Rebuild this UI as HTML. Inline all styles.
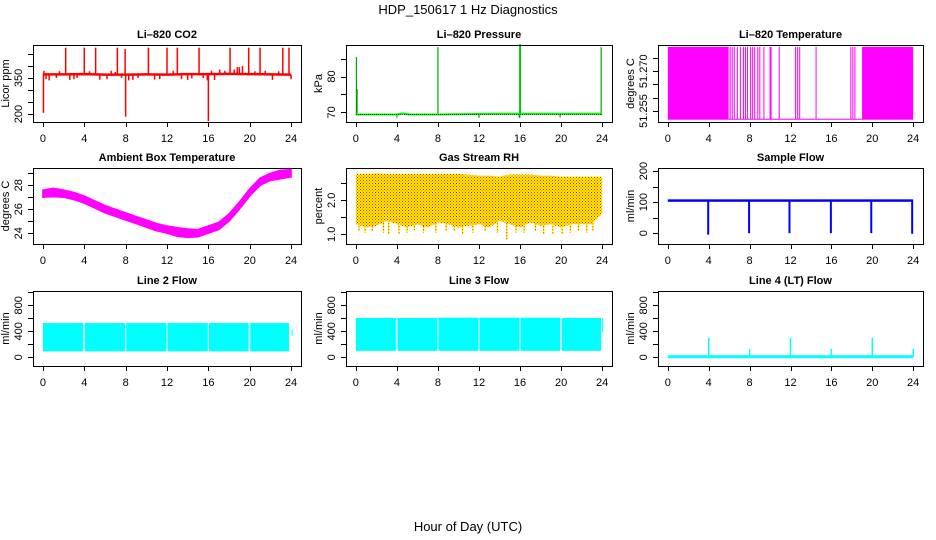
<!DOCTYPE html>
<html><head><meta charset="utf-8"><style>
html,body{margin:0;padding:0;background:#fff;}
svg{display:block;font-family:"Liberation Sans",sans-serif;}
</style></head><body>
<svg id="chart" width="936" height="540" viewBox="0 0 936 540" xmlns="http://www.w3.org/2000/svg">
<defs>
<pattern id="rhdots" width="3" height="3" patternUnits="userSpaceOnUse">
<rect width="3" height="3" fill="#ffff00"/>
<rect x="0" y="0" width="1" height="1" fill="#ff0000"/>
<rect x="1.5" y="1.5" width="1" height="1" fill="#ff0000"/>
</pattern>
</defs>
<text x="468" y="14" text-anchor="middle" font-size="13">HDP_150617  1 Hz Diagnostics</text>
<text x="468" y="531" text-anchor="middle" font-size="13">Hour of Day (UTC)</text>
</svg>
<script>
// ---- shared axis data ----
const xTicks = [0,4,8,12,16,20,24];

// CO2
const co2BaseHours = [0,2,4,6,8,10,12,14,16,18,20,22,24];
const co2BaseVals = [365,365,366,364,364,365,364,366,366,367,366,365,364];
const co2SpikeHours = [0.05,0.1,0.3,0.6,1.3,1.6,2.2,2.6,3.0,3.3,4.0,4.5,5.1,5.5,6.2,6.6,7.0,7.2,7.6,7.95,8.0,8.3,8.7,9.2,10.2,10.8,11.3,12.0,12.6,13.0,13.4,14.0,14.4,15.1,15.5,15.9,16.0,16.3,16.6,17.1,17.6,18.1,18.5,18.8,19.0,19.3,19.9,20.5,21.0,21.5,22.2,22.8,23.2,23.8,24.0];
const co2SpikeVals = [205,380,345,340,350,378,476,342,345,350,476,378,476,343,345,380,375,476,350,470,189,340,342,350,476,343,345,476,380,476,345,342,348,476,350,340,170,380,342,385,380,476,385,395,395,400,476,378,476,380,342,378,476,476,345];

// Pressure
const presBaseHours = [0,4,4.5,5.2,8,13.5,23.8,24];
const presBaseVals = [69.4,69.4,69.7,69.4,69.4,69.6,69.6,69.4];
const presSpikeHours = [0.05,0.12,4.0,8.0,12.0,15.95,16.0,19.9,23.9];
const presSpikeVals = [85.4,76.5,68.5,88.2,68.5,68.5,89.0,68.6,88.2];

// Li-820 temperature (binary toggling)
const tempLow = 51.2519;
const tempHigh = 51.2792;
const tempDenseBlocks = [[0,5.95],[19.0,24.0]];
const tempSpikeHours = [6.1,6.3,6.5,6.8,7.1,7.4,7.6,7.8,8.1,8.3,8.5,8.8,9.0,9.4,10.0,10.1,10.9,12.5,12.7,12.9,14.5,17.9,18.1,18.3];

// Ambient box temperature
const ambHours = [0,1,2,3,4,5,6,7,8,9,10,11,12,13,14,15,16,17,18,19,20,21,22,23,24];
const ambMid = [27.3,27.4,27.3,27.1,26.8,26.4,26.0,25.7,25.4,25.1,24.8,24.5,24.3,24.1,24.0,24.0,24.3,24.6,25.3,26.3,27.4,28.3,28.7,28.9,29.0];
const ambHalfWidth = [0.3,0.35,0.3,0.3,0.3,0.3,0.3,0.3,0.3,0.3,0.3,0.3,0.3,0.35,0.35,0.3,0.3,0.3,0.3,0.3,0.3,0.3,0.3,0.35,0.3];

// Gas stream RH
const rhHours = [0,1,2,3,4,5,6,7,8,9,10,11,12,13,14,15,16,17,18,19,20,21,22,23,24];
const rhTop = [2.78,2.78,2.80,2.78,2.78,2.78,2.78,2.78,2.78,2.78,2.78,2.75,2.72,2.72,2.70,2.76,2.76,2.76,2.72,2.72,2.70,2.70,2.70,2.70,2.70];
const rhBottom = [1.3,1.2,1.25,1.4,1.3,1.2,1.3,1.2,1.35,1.3,1.2,1.25,1.3,1.2,1.4,1.3,1.2,1.35,1.25,1.3,1.2,1.3,1.3,1.3,1.6];
const rhDipHours = [0.3,0.9,1.6,2.7,3.2,4.2,5.0,5.7,6.6,7.8,8.8,9.6,10.4,11.4,12.6,13.8,14.7,15.6,16.4,17.5,18.3,19.2,20.1,20.9,21.7,22.5,23.1];
const rhDipVals = [1.1,1.05,1.1,1.05,1.0,1.0,1.05,1.1,1.05,1.05,1.1,1.1,1.0,1.05,1.1,1.05,0.85,1.05,1.05,1.1,1.0,1.0,1.0,1.05,1.1,1.05,1.1];

// Sample flow
const sfBase = 105;
const sfDropHours = [3.95,7.95,11.9,15.95,19.9,23.9];
const sfDropVals = [-5,0,0,0,0,-2];

// Line 2 flow
const l2SegStart = [0,4.05,8.05,12.05,16.05,20.05,24.05];
const l2SegEnd = [3.9,7.95,11.95,15.95,19.9,23.8,24.15];
const l2Top = [527,527,527,527,527,527,430];
const l2Bottom = [92,92,92,92,92,92,330];

// Line 3 flow
const l3SegStart = [0,4.05,8.05,12.05,16.05,20.05,24.0];
const l3SegEnd = [3.9,7.95,11.95,15.95,19.9,23.9,24.1];
const l3Top = [606,606,610,610,610,606,600];
const l3Bottom = [100,100,100,100,100,100,380];

// Line 4 flow
const l4Base = 10;
const l4SpikeHours = [4,8,12,16,20,24];
const l4SpikeVals = [300,130,300,130,300,130];

// ---- layout ----
const NS = "http://www.w3.org/2000/svg";
const svg = document.getElementById('chart');
const colL = [33,346,658], colR = [301,612,923];
const rowT = [45,168,291], rowB = [122,244,366];

function mk(tag, attrs, parent) {
  const e = document.createElementNS(NS, tag);
  for (const k in attrs) e.setAttribute(k, attrs[k]);
  (parent || svg).appendChild(e);
  return e;
}

function panel(col, row, title, ylab, ymin, ymax, yTicks, yLabels, name) {
  const g = mk('g', {});
  
  
  const L = colL[col], R = colR[col], T = rowT[row], B = rowB[row];
  const w = R - L;
  const span = w / 1.08, pad = w * 0.04 / 1.08;
  const xs = h => L + pad + h / 24 * span;
  const ys = v => B - (v - ymin) / (ymax - ymin) * (B - T);
  const t = mk('text', {x: (L + R) / 2, y: T - 7, 'text-anchor': 'middle', 'font-size': 11, 'font-weight': 'bold'}, g);
  t.textContent = title;
  
  
  const plot = mk('g', {}, g);
  
  
  const xa = mk('g', {stroke: '#000', 'stroke-width': 1}, g);
  
  
  mk('line', {x1: xs(0), x2: xs(24), y1: B + 0.5, y2: B + 0.5}, xa);
  xTicks.forEach(h => {
    mk('line', {x1: Math.round(xs(h)) + 0.5, x2: Math.round(xs(h)) + 0.5, y1: B, y2: B + 5}, xa);
    const tl = mk('text', {x: xs(h), y: B + 20, 'text-anchor': 'middle', 'font-size': 11, stroke: 'none'}, g);
    tl.textContent = h;
    
    
  });
  const ya = mk('g', {stroke: '#000', 'stroke-width': 1}, g);
  
  
  yTicks.forEach((v, i) => {
    const y = Math.round(ys(v)) + 0.5;
    mk('line', {x1: L - 5, x2: L, y1: y, y2: y}, ya);
    if (yLabels[i]) {
      const yl = mk('text', {x: L - 11, y: ys(v), 'text-anchor': 'middle', 'font-size': 11, transform: `rotate(-90 ${L - 11} ${ys(v)})`}, g);
      yl.textContent = yLabels[i];
      
      
    }
  });
  const yt = mk('text', {x: L - 24, y: (T + B) / 2, 'text-anchor': 'middle', 'font-size': 11, transform: `rotate(-90 ${L - 24} ${(T + B) / 2})`}, g);
  yt.textContent = ylab;
  
  
  const box = mk('rect', {x: L + 0.5, y: T + 0.5, width: w, height: B - T, fill: 'none', stroke: '#000', 'stroke-width': 1}, g);
  
  
  return {xs, ys, plot};
}
function poly(pts) { return pts.map(p => p[0].toFixed(1) + ',' + p[1].toFixed(1)).join(' '); }
function vline(p, x, y1, y2, color, sw, nm) {
  const l = mk('line', {x1: x, x2: x, y1: y1, y2: y2, stroke: color, 'stroke-width': sw}, p);
  
  
  return l;
}

// 1 CO2
(function(){
  const P = panel(0,0,'Li\u2013820 CO2','Licor ppm',167,487,[200,250,300,350,400,450],['200','','','350','',''],'co2');
  co2SpikeHours.forEach((h,i)=>{
    const b = co2BaseVals[Math.min(co2BaseVals.length-1, Math.round(h/2))];
    vline(P.plot, P.xs(h), P.ys(b), P.ys(co2SpikeVals[i]), '#ff0000', 1.5, 'co2-spike');
  });
  const pl = mk('polyline',{points: poly(co2BaseHours.map((h,i)=>[P.xs(h),P.ys(co2BaseVals[i])])), fill:'none', stroke:'#ff0000','stroke-width':2.5}, P.plot);
  
  
})();

// 2 Pressure
(function(){
  const P = panel(1,0,'Li\u2013820 Pressure','kPa',67.3,88.8,[70,75,80,85],['70','','80',''],'pressure');
  presSpikeHours.forEach((h,i)=>{
    vline(P.plot, P.xs(h), P.ys(69.4), P.ys(presSpikeVals[i]), '#00ff00', i===5||i===6?2:1.2, 'pressure-spike');
    const d = vline(P.plot, P.xs(h), P.ys(69.4), P.ys(presSpikeVals[i]), '#000', 0.8, 'pressure-spike-dotted');
    d.setAttribute('stroke-dasharray','1,1');
  });
  const pl = mk('polyline',{points: poly(presBaseHours.map((h,i)=>[P.xs(h),P.ys(presBaseVals[i])])), fill:'none', stroke:'#00ff00','stroke-width':2}, P.plot);
  
  
  const dl = mk('line',{x1:P.xs(0),x2:P.xs(24),y1:P.ys(69.4),y2:P.ys(69.4),stroke:'#000','stroke-width':0.8,'stroke-dasharray':'1,1'}, P.plot);
  
  
})();

// 3 Temperature
(function(){
  const P = panel(2,0,'Li\u2013820 Temperature','degrees C',51.25085,51.2799,[51.255,51.26,51.265,51.27,51.275],['51.255','','','51.270',''],'li820-temp');
  tempDenseBlocks.forEach(b=>{
    const r = mk('rect',{x:P.xs(b[0]),y:P.ys(tempHigh),width:P.xs(b[1])-P.xs(b[0]),height:P.ys(tempLow)-P.ys(tempHigh),fill:'#ff00ff'}, P.plot);
    
    
  });
  tempSpikeHours.forEach(h=> vline(P.plot, P.xs(h), P.ys(tempLow), P.ys(tempHigh), '#ff00ff', 1, 'li820-temp-spike'));
  const bl = mk('line',{x1:P.xs(0),x2:P.xs(24),y1:P.ys(tempLow),y2:P.ys(tempLow),stroke:'#ff00ff','stroke-width':1}, P.plot);
  
  
})();

// 4 Ambient
(function(){
  const P = panel(0,1,'Ambient Box Temperature','degrees C',23.1,29.44,[24,25,26,27,28,29],['24','','26','','28',''],'ambient-temp');
  const up = ambHours.map((h,i)=>[P.xs(h),P.ys(ambMid[i]+ambHalfWidth[i])]);
  const lo = ambHours.map((h,i)=>[P.xs(h),P.ys(ambMid[i]-ambHalfWidth[i])]).reverse();
  const pg = mk('polygon',{points: poly(up.concat(lo)), fill:'#ff00ff', stroke:'#ff00ff','stroke-width':1.5}, P.plot);
  
  
})();

// 5 RH
(function(){
  const P = panel(1,1,'Gas Stream RH','percent',0.715,2.95,[1.0,1.5,2.0,2.5],['1.0','','2.0',''],'rh');
  rhDipHours.forEach((h,i)=>{
    vline(P.plot, P.xs(h), P.ys(1.5), P.ys(rhDipVals[i]), '#ffff00', 1.5, 'rh-dip');
    const d = vline(P.plot, P.xs(h), P.ys(1.5), P.ys(rhDipVals[i]), '#ff0000', 1, 'rh-dip-points');
    d.setAttribute('stroke-dasharray','1,2');
  });
  const up = rhHours.map((h,i)=>[P.xs(h),P.ys(rhTop[i])]);
  const lo = rhHours.map((h,i)=>[P.xs(h),P.ys(rhBottom[i])]).reverse();
  const pg = mk('polygon',{points: poly(up.concat(lo)), fill:'url(#rhdots)'}, P.plot);
  
  
})();

// 6 Sample flow
(function(){
  const P = panel(2,1,'Sample Flow','ml/min',-35,210,[0,50,100,150,200],['0','','100','','200'],'sample-flow');
  sfDropHours.forEach((h,i)=> vline(P.plot, P.xs(h), P.ys(sfBase), P.ys(sfDropVals[i]), '#0000ff', 2, 'sample-flow-drop'));
  const r = mk('rect',{x:P.xs(0),y:P.ys(sfBase+4),width:P.xs(24)-P.xs(0),height:P.ys(sfBase-4)-P.ys(sfBase+4),fill:'#0000ff'}, P.plot);
  
  
})();

// 7-9 flows
function segs(P, st, en, top, bot, nm){
  st.forEach((s,i)=>{
    const r = mk('rect',{x:P.xs(s),y:P.ys(top[i]),width:Math.max(1,P.xs(en[i])-P.xs(s)),height:P.ys(bot[i])-P.ys(top[i]),fill:'#00ffff'}, P.plot);
    
    
  });
}
const flowTicks = [0,200,400,600,800,1000], flowLabels = ['0','','400','','800',''];
(function(){
  const P = panel(0,2,'Line 2 Flow','ml/min',-133,1020,flowTicks,flowLabels,'line2-flow');
  segs(P,l2SegStart,l2SegEnd,l2Top,l2Bottom,'line2-flow-segment');
})();
(function(){
  const P = panel(1,2,'Line 3 Flow','ml/min',-133,1020,flowTicks,flowLabels,'line3-flow');
  segs(P,l3SegStart,l3SegEnd,l3Top,l3Bottom,'line3-flow-segment');
})();
(function(){
  const P = panel(2,2,'Line 4 (LT) Flow','ml/min',-133,1020,flowTicks,flowLabels,'line4-flow');
  l4SpikeHours.forEach((h,i)=> vline(P.plot, P.xs(h), P.ys(l4Base), P.ys(l4SpikeVals[i]), '#00ffff', 1.5, 'line4-flow-spike'));
  const r = mk('rect',{x:P.xs(0),y:P.ys(l4Base)-1.5,width:P.xs(24)-P.xs(0),height:3,fill:'#00ffff'}, P.plot);
  
  
})();
</script>
</body></html>
